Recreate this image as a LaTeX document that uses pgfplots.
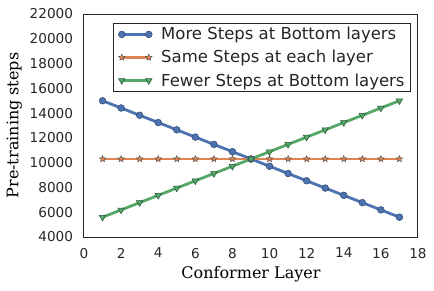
\documentclass[border=0pt]{standalone}
\usepackage{fontspec}
\setmainfont{DejaVu Sans}
\newfontfamily\serif{DejaVu Serif}
\usepackage{pgfplots}
\pgfplotsset{compat=1.18}
\usetikzlibrary{plotmarks}
\definecolor{sbblue}{HTML}{4C72B0}
\definecolor{sborange}{HTML}{DD8452}
\definecolor{sbgreen}{HTML}{55A868}
\pgfdeclareplotmark{fstar}{%
  \pgfpathmoveto{\pgfpointpolar{90}{\pgfplotmarksize}}%
  \pgfpathlineto{\pgfpointpolar{126}{0.45\pgfplotmarksize}}%
  \pgfpathlineto{\pgfpointpolar{162}{\pgfplotmarksize}}%
  \pgfpathlineto{\pgfpointpolar{198}{0.45\pgfplotmarksize}}%
  \pgfpathlineto{\pgfpointpolar{234}{\pgfplotmarksize}}%
  \pgfpathlineto{\pgfpointpolar{270}{0.45\pgfplotmarksize}}%
  \pgfpathlineto{\pgfpointpolar{306}{\pgfplotmarksize}}%
  \pgfpathlineto{\pgfpointpolar{342}{0.45\pgfplotmarksize}}%
  \pgfpathlineto{\pgfpointpolar{18}{\pgfplotmarksize}}%
  \pgfpathlineto{\pgfpointpolar{54}{0.45\pgfplotmarksize}}%
  \pgfpathclose\pgfusepathqfillstroke}
\begin{document}
\begin{tikzpicture}
\begin{axis}[
  scale only axis, width=334pt, height=223pt,
  at={(0pt,0pt)}, anchor=south west,
  xmin=0, xmax=18, ymin=4000, ymax=22000,
  xtick={0,2,...,18}, ytick={4000,6000,...,22000},
  scaled y ticks=false,
  /pgf/number format/1000 sep={},
  /pgf/number format/assume math mode=true,
  major tick length=0pt,
  tick style={draw=none},
  ticklabel style={font=\fontsize{13.6}{16}\selectfont, text=black!85},
  xticklabel shift=7.5pt, yticklabel shift=7.5pt,
  axis line style={black!85, line width=1pt},
  xlabel={\serif Conformer Layer},
  ylabel={\serif Pre-training steps},
  label style={font=\fontsize{16}{19}\selectfont},
  xlabel shift=1pt, ylabel shift=1pt,
  legend cell align=left,
  legend style={at={(1,1)}, anchor=north east, xshift=-7pt, yshift=-9pt,
    font=\fontsize{16.5}{19}\selectfont, draw=black!85, line width=0.8pt,
    inner xsep=4pt, inner ysep=2pt, row sep=5pt, text=black!85},
  legend image code/.code={\draw[#1] plot coordinates {(0pt,0pt) (27pt,0pt)};
    \path (-3pt,0pt) (36pt,0pt);},
]
\addplot[sbblue, line width=2.8pt, mark=*, mark size=3.4pt,
  mark options={fill=sbblue, draw=sbblue!65!black, line width=0.5pt}]
  coordinates {(1,15000) (2,14412.5) (3,13825) (4,13237.5) (5,12650) (6,12062.5)
  (7,11475) (8,10887.5) (9,10300) (10,9712.5) (11,9125) (12,8537.5) (13,7950)
  (14,7362.5) (15,6775) (16,6187.5) (17,5600)};
\addlegendentry{More Steps at Bottom layers}
\addplot[sborange, line width=2.8pt, mark=fstar, mark size=3.4pt,
  mark options={fill=sborange, draw=black!70, line width=0.4pt}]
  coordinates {(1,10300) (2,10300) (3,10300) (4,10300) (5,10300) (6,10300)
  (7,10300) (8,10300) (9,10300) (10,10300) (11,10300) (12,10300) (13,10300)
  (14,10300) (15,10300) (16,10300) (17,10300)};
\addlegendentry{Same Steps at each layer}
\addplot[sbgreen, line width=2.8pt, mark=triangle*, mark size=3.8pt,
  mark options={fill=sbgreen, draw=sbgreen!50!black, line width=0.5pt, rotate=180}]
  coordinates {(1,5600) (2,6187.5) (3,6775) (4,7362.5) (5,7950) (6,8537.5)
  (7,9125) (8,9712.5) (9,10300) (10,10887.5) (11,11475) (12,12062.5) (13,12650)
  (14,13237.5) (15,13825) (16,14412.5) (17,15000)};
\addlegendentry{Fewer Steps at Bottom layers}
\end{axis}
\pgfresetboundingbox
\path[use as bounding box] (-84pt,-53pt) rectangle (350pt,237pt);
\end{tikzpicture}
\end{document}
